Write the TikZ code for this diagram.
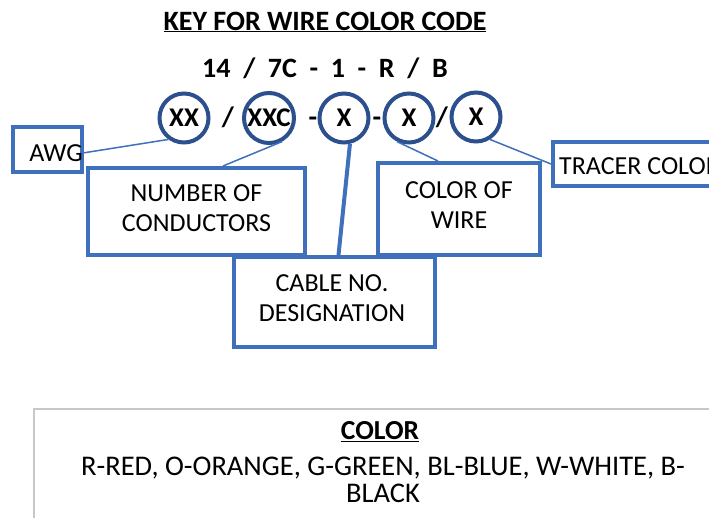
\documentclass[tikz,border=0pt]{standalone}
\usepackage{fontspec}
\setmainfont{Carlito}
\definecolor{boxblue}{RGB}{62,112,188}
\definecolor{circblue}{RGB}{44,80,142}
\definecolor{greyline}{RGB}{200,200,200}
\tikzset{
  lbl/.style={font=\fontsize{26}{30}\selectfont, align=center, inner sep=0pt},
  boxnode/.style={draw=boxblue, line width=4pt, rectangle, fill=white},
  ring/.style={draw=circblue, line width=4pt, circle, minimum size=49pt, inner sep=0pt, font=\fontsize{27}{30}\selectfont\bfseries},
  sep/.style={inner sep=0pt, anchor=base, font=\fontsize{28}{30}\selectfont\bfseries},
  thin/.style={draw=boxblue, line width=1.5pt},
  thick/.style={draw=boxblue, line width=4pt},
}
\begin{document}
\begin{tikzpicture}[x=1pt,y=-1pt]
\useasboundingbox (0,0) rectangle (709,518);
\clip (0,0) rectangle (709,518);
\fill[white] (0,0) rectangle (709,518);
% title
\node[lbl, font=\fontsize{28}{30}\selectfont\bfseries] (title) at (325,22) {\underline{KEY FOR WIRE COLOR CODE}};
\node[lbl, font=\fontsize{28}{30}\selectfont\bfseries] (code) at (325,68) {14 \ / \ 7C \ - \ 1 \ - \ R \ / \ B};
% boxes
\node[boxnode, minimum width=217pt, minimum height=87pt] (num) at (196.5,211.5) {};
\node[lbl] (numt) at (196.5,208) {NUMBER OF\\CONDUCTORS};
\node[boxnode, minimum width=162pt, minimum height=92pt] (col) at (459,209) {};
\node[lbl] (colt) at (459,205) {COLOR OF\\WIRE};
\node[boxnode, minimum width=201pt, minimum height=90pt] (cab) at (334.5,302) {};
\node[lbl] (cabt) at (332,298) {CABLE NO.\\DESIGNATION};
\node[boxnode, minimum width=69pt, minimum height=45pt] (awg) at (47.5,149.5) {};
\node[lbl] (awgt) at (56,153) {AWG};
\node[boxnode, anchor=west, minimum width=200pt, minimum height=44pt] (tr) at (551,164) {};
\node[lbl, anchor=west] (trt) at (559,166) {TRACER COLOR};
% circles
\node[ring] (xx) at (184,118) {XX};
\node[ring, minimum size=50pt] (xxc) at (269,118) {XXC};
\node[ring] (xa) at (344,118) {X};
\node[ring] (xb) at (409,118) {X};
\node[ring] (xc) at (476,117) {X};
% separators
\node[sep] (s1) at (228,127) {/};
\node[sep] (s2) at (313,127) {-};
\node[sep] (s3) at (377,127) {-};
\node[sep] (s4) at (442,127) {/};
% connectors
\draw[thin] (awgt.east) -- (xx.234);
\draw[thin] ([xshift=137pt]num.north west) -- (xxc.299);
\draw[thick] (xa.283) -- ([xshift=4pt]cab.north);
\draw[thin] ([xshift=62pt]col.north west) -- (xb.243);
\draw[thin] (tr.west) -- (xc.302);
% colour legend
\node[draw=greyline, line width=1.5pt, anchor=north west, minimum width=720pt, minimum height=130pt] (leg) at (33,408) {};
\node[lbl, font=\fontsize{27.5}{30}\selectfont\bfseries] (legt) at (380,432) {\underline{COLOR}};
\node[lbl, font=\fontsize{28.5}{27}\selectfont] (legb) at (383,480) {R-RED, O-ORANGE, G-GREEN, BL-BLUE, W-WHITE, B-\\BLACK};
\end{tikzpicture}
\end{document}
